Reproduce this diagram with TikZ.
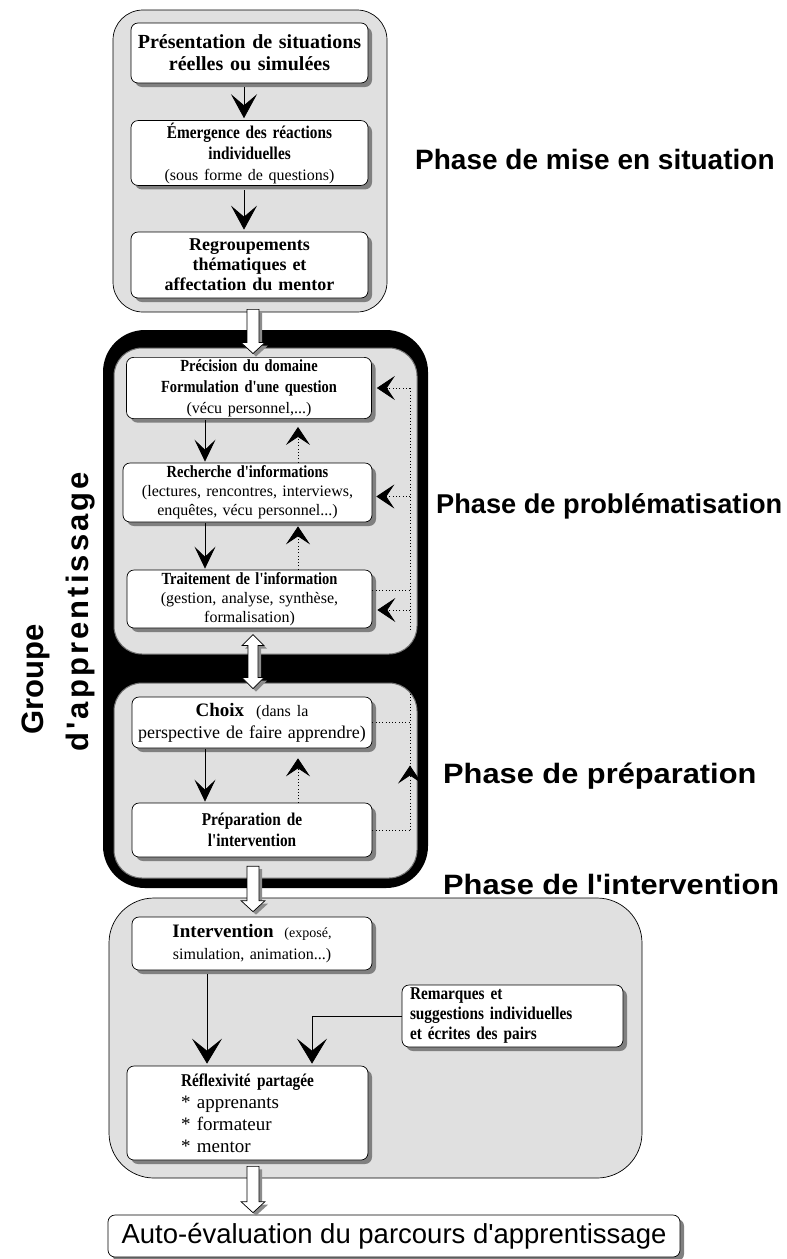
\documentclass[tikz,border=0pt]{standalone}
\usepackage{fontspec}
\setmainfont{Liberation Serif}
\newfontfamily\sansf{Liberation Sans}
\newfontfamily\sansls[LetterSpace=10]{Liberation Sans}
\newfontfamily\condf[FakeStretch=0.85]{Liberation Serif}
\usetikzlibrary{arrows.meta,shadows,calc}
\newcommand\blkdown[2]{%
  \path (#1) coordinate (bA) (#2) coordinate (bB);
  \fill[black!45] ($(bA)+(-3,3)$) -- ($(bA)+(9,3)$) -- ($(bB)+(9,-8)$) -- ($(bB)+(15,-8)$) -- ($(bB)+(3,3)$) -- ($(bB)+(-9,-8)$) -- ($(bB)+(-3,-8)$) -- cycle;
  \draw[fill=white,line width=0.7pt,line join=miter] ($(bA)+(-6,0)$) -- ($(bA)+(6,0)$) -- ($(bB)+(6,-11)$) -- ($(bB)+(12,-11)$) -- (bB) -- ($(bB)+(-12,-11)$) -- ($(bB)+(-6,-11)$) -- cycle;}
\newcommand\blkboth[2]{%
  \path (#1) coordinate (bA) (#2) coordinate (bB);
  \fill[black!45] ($(bA)+(3,3)$) -- ($(bA)+(14,14)$) -- ($(bA)+(8,14)$) -- ($(bB)+(8,-8)$) -- ($(bB)+(14,-8)$) -- ($(bB)+(3,3)$) -- ($(bB)+(-8,-8)$) -- ($(bB)+(-2,-8)$) -- ($(bA)+(-2,14)$) -- ($(bA)+(-8,14)$) -- cycle;
  \draw[fill=white,line width=0.7pt,line join=miter] (bA) -- ($(bA)+(11,11)$) -- ($(bA)+(5,11)$) -- ($(bB)+(5,-11)$) -- ($(bB)+(11,-11)$) -- (bB) -- ($(bB)+(-11,-11)$) -- ($(bB)+(-5,-11)$) -- ($(bA)+(-5,11)$) -- ($(bA)+(-11,11)$) -- cycle;}
\begin{document}
\begin{tikzpicture}[x=1pt,y=-1pt,
  box/.style={draw=black,line width=0.7pt,fill=white,rounded corners=7pt,
    drop shadow={shadow xshift=4pt,shadow yshift=-4pt,fill=black!50,opacity=1},
    align=center,inner sep=2pt},
  cont/.style={fill=black!12,draw=black,line width=0.7pt},
  phase/.style={font=\sansf\bfseries\fontsize{28}{30}\selectfont,anchor=base west,inner sep=0pt},
  vbig/.style={line width=0.8pt,-{Stealth[length=24pt,width=26pt,inset=11pt]}},
  vmid/.style={line width=0.8pt,-{Stealth[length=22pt,width=21pt,inset=10pt]}},
  vint/.style={line width=0.8pt,-{Stealth[length=25pt,width=30pt,inset=12pt]}},
  dotline/.style={line width=0.8pt,dash pattern=on 0.9pt off 2.4pt},
  dhead/.style={-{Stealth[length=18pt,width=24pt,inset=8pt]}},
  bt/.style={font=\fontsize{17}{21}\selectfont}]
\useasboundingbox (0,0) rectangle (787,1259);
\fill[white] (0,0) rectangle (787,1259);
\coordinate (ax) at (244,0);
\coordinate (hx) at (253,0);
\coordinate (dx) at (205,0);
\coordinate (ux) at (298,0);
\coordinate (fx) at (410,0);
\coordinate (ix) at (207,0);
\coordinate (rx) at (312,0);

% ---- containers ----
\node[cont,rounded corners=30pt,minimum width=274pt,minimum height=302pt,inner sep=0pt] (c1) at (250,161) {};
\node[fill=black,rounded corners=42pt,minimum width=325pt,minimum height=558pt,inner sep=0pt] (gb) at (265.5,609) {};
\node[cont,draw=black!55,line width=1pt,rounded corners=28pt,minimum width=303pt,minimum height=306pt,inner sep=0pt] (c2) at (265.5,501) {};
\node[cont,draw=black!55,line width=1pt,rounded corners=28pt,minimum width=303pt,minimum height=195pt,inner sep=0pt] (c3) at (265.5,780.5) {};
\node[cont,rounded corners=45pt,minimum width=533pt,minimum height=280pt,inner sep=0pt] (c4) at (375.5,1038) {};

% ---- phase de mise en situation ----
\node[box,minimum width=237pt,minimum height=60pt,text width=233pt,font=\bfseries\fontsize{20}{22}\selectfont] (p1) at (249.5,53) {Présentation de situations\\réelles ou simulées};
\node[box,minimum width=237pt,minimum height=60pt,text width=233pt,bt] (p2) at (249.5,153) {{\condf\bfseries\fontsize{18}{21}\selectfont Émergence des réactions}\\{\condf\bfseries\fontsize{18}{21}\selectfont individuelles}\\{\fontsize{16}{21}\selectfont (sous forme de questions)}};
\node[box,minimum width=237pt,minimum height=66pt,text width=233pt,font=\bfseries\fontsize{18}{20}\selectfont] (p3) at (249.5,265) {Regroupements\\thématiques et\\affectation du mentor};
\draw[vbig] ($(p1.south -| ax)+(0,4)$) -- ($(p2.north -| ax)+(0,-2)$);
\draw[vbig] ($(p2.south -| ax)+(0,4)$) -- ($(p3.north -| ax)+(0,-2)$);

% ---- phase de problématisation ----
\node[box,minimum width=245pt,minimum height=60pt,text width=241pt,bt] (q1) at (249,388) {{\condf\bfseries Précision du domaine}\\{\condf\bfseries Formulation d'une question}\\{\fontsize{16}{19}\selectfont (vécu personnel,...)}};
\node[box,minimum width=249pt,minimum height=59pt,text width=245pt,font=\fontsize{16}{19}\selectfont] (q2) at (247.5,492.5) {{\condf\bfseries\fontsize{17}{19}\selectfont Recherche d'informations}\\(lectures, rencontres, interviews,\\enquêtes, vécu personnel...)};
\node[box,minimum width=245pt,minimum height=58pt,text width=241pt,font=\fontsize{16}{19}\selectfont] (q3) at (249.5,599) {{\condf\bfseries\fontsize{17}{19}\selectfont Traitement de l'information}\\(gestion, analyse, synthèse,\\formalisation)};
\draw[vmid] ($(q1.south -| dx)+(0,1)$) -- ($(q2.north -| dx)+(0,-1)$);
\draw[vmid] ($(q2.south -| dx)+(0,1)$) -- ($(q3.north -| dx)+(0,-1)$);
\draw[dotline,dhead] (q2.north -| ux) -- ($(q1.south -| ux)+(0,8)$);
\draw[dotline,dhead] (q3.north -| ux) -- ($(q2.south -| ux)+(0,4)$);
\draw[dotline] ($(q3.east)+(0,-9)$) -- ($(q3.east -| fx)+(0,-9)$);
\draw[dotline] (q1.east -| fx) -- ($(q3.east -| fx)+(0,30)$);
\draw[dotline,dhead] (q1.east -| fx) -- ($(q1.east)+(5,0)$);
\draw[dotline,dhead] ($(q2.east -| fx)+(0,4)$) -- ($(q2.east)+(4,4)$);
\draw[dotline,dhead] ($(q3.east -| fx)+(0,11)$) -- ($(q3.east)+(5,11)$);

% ---- phase de préparation ----
\node[box,minimum width=240pt,minimum height=51pt,text width=236pt,font=\fontsize{18}{22}\selectfont] (r1) at (252,722.5) {{\bfseries\fontsize{19}{22}\selectfont Choix}\ \ {\fontsize{16}{22}\selectfont(dans la}\\perspective de faire apprendre)};
\node[box,minimum width=240pt,minimum height=54pt,text width=236pt,font=\condf\bfseries\fontsize{18}{21}\selectfont] (r2) at (252,830) {Préparation de\\l'intervention};
\draw[vmid] ($(r1.south -| dx)+(0,1)$) -- ($(r2.north -| dx)+(0,-1)$);
\draw[dotline,dhead] (r2.north -| ux) -- ($(r1.south -| ux)+(0,10)$);
\draw[dotline] (r1.east) -- (r1.east -| fx);
\draw[dotline] (r2.east) -- (r2.east -| fx);
\draw[dotline] ($(r1.east -| fx)+(0,-32)$) -- (r2.east -| fx);
\draw[dotline,dhead] (r2.east -| fx) -- ($(r2.east -| fx)!0.6!(r1.east -| fx)$);

% ---- phase de l'intervention ----
\node[box,minimum width=240pt,minimum height=53pt,text width=236pt,font=\fontsize{16}{22}\selectfont] (s1) at (252,943.5) {{\bfseries\fontsize{19}{22}\selectfont Intervention}\ \ {\fontsize{14}{22}\selectfont(exposé,}\\simulation, animation...)};
\node[box,minimum width=221pt,minimum height=62pt,text width=205pt,align=left,inner xsep=8pt,font=\condf\bfseries\fontsize{18}{20}\selectfont] (s2) at (512.5,1016) {Remarques et\\suggestions individuelles\\et écrites des pairs};
\node[box,minimum width=241pt,minimum height=94pt,text width=237pt,align=left,font=\fontsize{19}{22}\selectfont] (s3) at (247.5,1113) {\makebox[237pt]{\condf\bfseries\fontsize{18}{21}\selectfont Réflexivité partagée}\\\hspace*{52pt}* apprenants\\\hspace*{52pt}* formateur\\\hspace*{52pt}* mentor};
\draw[vint] ($(s1.south -| ix)+(0,4)$) -- ($(s3.north -| ix)+(0,-2)$);
\draw[vint] (s2.west) -| ($(s3.north -| rx)+(0,-2)$);

% ---- auto-évaluation ----
\node[box,minimum width=572pt,minimum height=42pt,font=\sansf\fontsize{27.5}{30}\selectfont,inner sep=0pt] (ae) at (394,1236) {Auto-évaluation du parcours d'apprentissage};

% ---- block arrows ----
\blkdown{$(c1.south -| hx)+(0,-3)$}{$(c2.north -| hx)+(0,6)$}
\blkboth{$(c2.south -| hx)+(0,-20)$}{$(c3.north -| hx)+(0,6)$}
\blkdown{$(gb.south -| hx)+(0,-22)$}{$(c4.north -| hx)+(0,14)$}
\blkdown{$(c4.south -| hx)+(0,-12)$}{$(ae.north -| hx)+(0,-2)$}

% ---- labels ----
\node[phase] (l1) at (415,169) {Phase de mise en situation};
\node[phase,font=\sansf\bfseries\fontsize{27.2}{30}\selectfont] (l2) at (436,513) {Phase de problématisation};
\node[phase] (l3) at (443,783) {\scalebox{1.1}[1]{Phase de préparation}};
\node[phase] (l4) at (443,894) {\scalebox{1.1}[1]{Phase de l'intervention}};
\node[rotate=90,anchor=base west,inner sep=0pt,font=\sansf\bfseries\fontsize{31}{34}\selectfont] (g1) at (43,735) {Groupe};
\node[rotate=90,anchor=base west,inner sep=0pt,font=\sansls\bfseries\fontsize{31}{34}\selectfont] (g2) at (88,752) {d'apprentissage};
\end{tikzpicture}
\end{document}
